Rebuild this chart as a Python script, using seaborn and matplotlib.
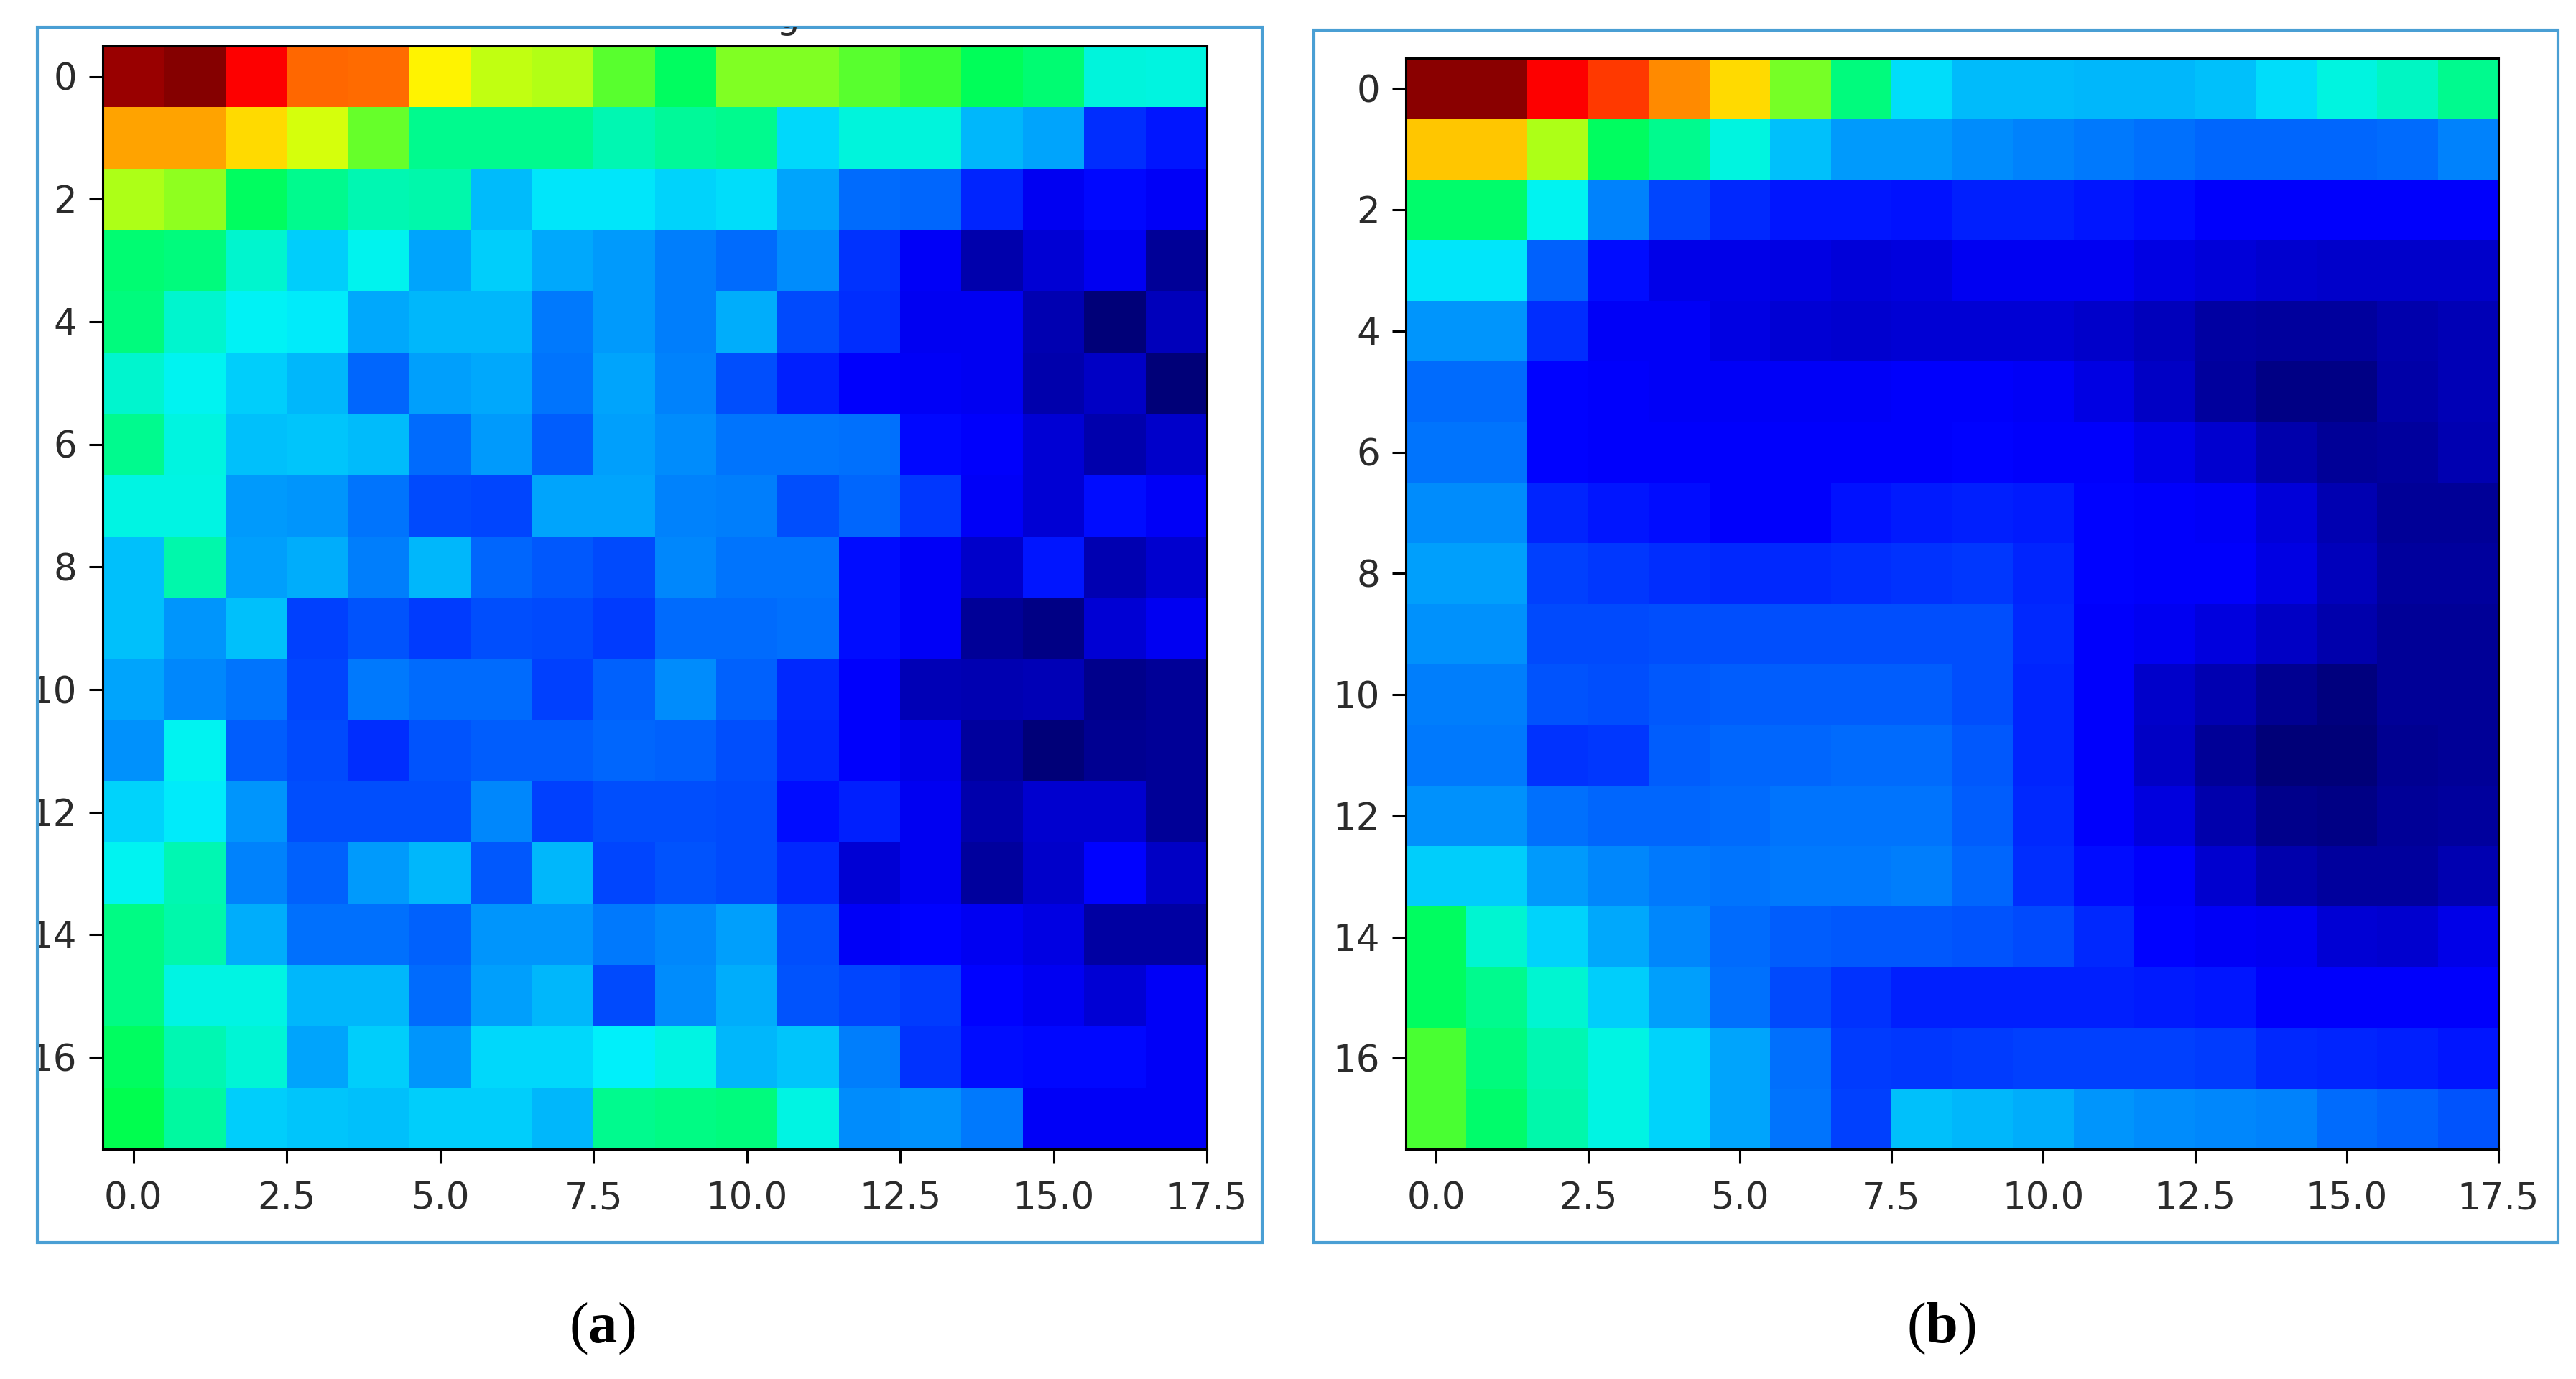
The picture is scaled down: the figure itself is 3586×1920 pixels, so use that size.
import matplotlib
matplotlib.use("Agg")
import matplotlib.pyplot as plt
import numpy as np
import seaborn as sns
from matplotlib.colors import LinearSegmentedColormap
from matplotlib.patches import Rectangle
from matplotlib.transforms import Bbox, ScaledTranslation

W, H = 3586, 1920

# cell values, 0 = navy ... 1 = dark red
cells_a = [
    [.98, .995, .90, .818, .815, .71, .65, .637, .57, .47, .60, .60, .57, .545, .48, .45, .335, .33],
    [.77, .77, .73, .665, .58, .42, .42, .42, .38, .41, .42, .28, .335, .335, .25, .237, .14, .12],
    [.635, .61, .47, .42, .38, .39, .257, .29, .292, .276, .285, .237, .19, .186, .13, .09, .107, .095],
    [.45, .44, .35, .27, .315, .237, .27, .24, .23, .206, .19, .218, .143, .097, .037, .07, .093, .023],
    [.44, .35, .305, .295, .24, .253, .253, .20, .23, .206, .245, .163, .14, .093, .09, .04, .0, .05],
    [.35, .31, .27, .253, .186, .233, .24, .198, .237, .21, .167, .127, .10, .097, .093, .037, .055, .002],
    [.42, .33, .26, .265, .257, .19, .23, .178, .233, .218, .198, .198, .194, .107, .10, .07, .037, .062],
    [.325, .325, .23, .225, .198, .163, .16, .237, .237, .21, .206, .167, .186, .147, .097, .07, .11, .097],
    [.26, .39, .233, .245, .206, .25, .186, .175, .163, .214, .198, .198, .11, .097, .06, .12, .04, .065],
    [.26, .225, .26, .155, .17, .15, .167, .163, .15, .19, .19, .194, .11, .097, .02, .01, .07, .093],
    [.237, .214, .198, .16, .20, .19, .19, .155, .18, .218, .18, .135, .10, .044, .04, .044, .012, .02],
    [.22, .31, .178, .163, .14, .17, .178, .178, .186, .18, .167, .13, .10, .085, .027, .002, .016, .02],
    [.276, .295, .225, .167, .167, .167, .214, .155, .167, .167, .163, .11, .127, .093, .037, .065, .065, .02],
    [.31, .38, .21, .18, .23, .253, .175, .25, .16, .17, .163, .135, .07, .093, .027, .06, .105, .055],
    [.43, .39, .245, .194, .194, .18, .225, .225, .20, .214, .233, .167, .097, .105, .093, .08, .03, .03],
    [.43, .325, .325, .25, .253, .19, .233, .253, .163, .218, .245, .17, .16, .15, .105, .093, .068, .097],
    [.47, .38, .34, .237, .272, .225, .28, .28, .30, .325, .25, .265, .206, .143, .11, .107, .107, .097],
    [.49, .40, .27, .265, .26, .27, .272, .25, .42, .43, .44, .325, .218, .22, .20, .097, .097, .097],
]

cells_b = [
    [.99, .99, .90, .855, .79, .73, .59, .44, .285, .257, .255, .25, .25, .26, .285, .33, .36, .42],
    [.745, .745, .635, .47, .42, .33, .26, .23, .23, .218, .21, .20, .194, .186, .186, .186, .19, .21],
    [.46, .46, .31, .21, .16, .135, .12, .12, .117, .125, .125, .12, .112, .10, .10, .10, .10, .10],
    [.29, .29, .18, .11, .085, .085, .08, .072, .075, .09, .093, .093, .08, .072, .065, .06, .06, .06],
    [.225, .225, .14, .097, .097, .08, .068, .065, .068, .068, .068, .06, .05, .03, .027, .027, .037, .044],
    [.19, .19, .105, .10, .097, .095, .095, .097, .10, .10, .097, .08, .055, .027, .01, .01, .034, .044],
    [.198, .198, .103, .10, .10, .10, .10, .10, .10, .103, .10, .10, .085, .065, .037, .023, .027, .04],
    [.218, .218, .13, .12, .112, .10, .10, .115, .123, .127, .123, .103, .10, .097, .072, .04, .02, .023],
    [.233, .233, .155, .147, .14, .135, .135, .14, .143, .147, .13, .103, .10, .10, .08, .05, .027, .027],
    [.22, .22, .163, .163, .167, .167, .167, .167, .167, .167, .135, .10, .09, .075, .058, .037, .02, .023],
    [.206, .206, .17, .167, .175, .178, .178, .178, .178, .167, .13, .10, .06, .04, .016, .005, .02, .02],
    [.20, .20, .143, .147, .178, .186, .186, .19, .19, .175, .13, .10, .055, .023, .002, .0, .016, .023],
    [.22, .22, .194, .186, .186, .19, .198, .198, .198, .178, .135, .10, .075, .037, .012, .01, .023, .027],
    [.272, .272, .23, .214, .20, .198, .20, .20, .206, .186, .14, .11, .10, .065, .037, .027, .027, .04],
    [.47, .345, .276, .24, .214, .19, .178, .175, .175, .17, .163, .135, .103, .097, .09, .068, .065, .085],
    [.47, .42, .345, .272, .233, .194, .163, .143, .127, .127, .127, .127, .123, .12, .10, .10, .10, .10],
    [.555, .44, .38, .325, .276, .237, .194, .15, .147, .15, .155, .155, .155, .15, .135, .13, .127, .12],
    [.555, .46, .39, .325, .276, .237, .198, .155, .26, .253, .245, .225, .218, .214, .21, .19, .18, .17],
]

x_ticks = [0.0, 2.5, 5.0, 7.5, 10.0, 12.5, 15.0, 17.5]
y_ticks = [0, 2, 4, 6, 8, 10, 12, 14, 16]
panel_names = ["a", "b"]

# saturated jet look, greens keep some blue like the reference
pure_jet = LinearSegmentedColormap.from_list("pure_jet", [
    (0.0, "#000078"), (0.02, "#000098"), (0.1, "#0000ff"), (0.3, "#00f2fa"),
    (0.5, "#00ff46"), (0.7, "#ffff00"), (0.9, "#ff0000"), (1.0, "#800000"),
])

sns.set_theme(style="white")
plt.rcParams["font.family"] = ["DejaVu Sans"]
plt.rcParams["mathtext.fontset"] = "custom"
plt.rcParams["mathtext.bf"] = "Liberation Serif:bold"
plt.rcParams["mathtext.rm"] = "Liberation Serif"

fig = plt.figure(figsize=(W / 100, H / 100), dpi=100)


def add_panel(cells, name, ax_box, frame, label_x):
    l, t, r, b = ax_box
    ax = fig.add_axes([l / W, 1 - b / H, (r - l) / W, (b - t) / H])
    sns.heatmap(np.array(cells), ax=ax, cmap=pure_jet, vmin=0, vmax=1, cbar=False)
    for s in ax.spines.values():
        s.set_visible(True)
        s.set_color("black")
        s.set_linewidth(2.2)
    # heatmap cells sit at i + 0.5
    ax.set_xticks([v + 0.5 for v in x_ticks], [f"{v:.1f}" for v in x_ticks], rotation=0)
    ax.set_yticks([v + 0.5 for v in y_ticks], [str(v) for v in y_ticks], rotation=0)
    ax.tick_params(length=14, width=2.2, color="black", labelcolor="#2b2b2b",
                   labelsize=37, bottom=True, left=True)
    ax.tick_params(axis="x", pad=18)
    ax.tick_params(axis="y", pad=12)
    # y labels sit a little lower than the tick in the reference
    nudge = ScaledTranslation(0, -5 / 100, fig.dpi_scale_trans)
    for lab in ax.get_yticklabels():
        lab.set_transform(lab.get_transform() + nudge)

    fl, ft, fr, fb = frame
    fig.add_artist(Rectangle((fl / W, 1 - fb / H), (fr - fl) / W, (fb - ft) / H,
                             transform=fig.transFigure, fill=False,
                             edgecolor="#4a9fd4", linewidth=3))
    fig.text(label_x / W, 1 - 1850 / H, rf"($\mathbf{{{name}}}$)", ha="center", va="center",
             fontsize=58, color="black", family="Liberation Serif")
    return ax


ax_a = add_panel(cells_a, panel_names[0], (143, 64, 1680, 1600), (52, 38, 1757, 1730), 838)
ax_b = add_panel(cells_b, panel_names[1], (1957, 81, 3478, 1600), (1829, 42, 3561, 1730), 2702)

# panel a: screenshot crop cuts the y labels at the frame
frame_clip = Bbox([[52, 0], [1757, H - 38]])
for lab in ax_a.get_yticklabels():
    lab.set_clip_box(frame_clip)
    lab.set_clip_on(True)

# leftover descender of a cropped title above panel a
stub = fig.text(1096 / W, 1 - 50 / H, "g", ha="center", va="bottom", fontsize=37, color="#2b2b2b")
stub.set_clip_box(Bbox([[0, H - 50], [W, H - 38]]))
stub.set_clip_on(True)

fig.savefig("out.png", dpi=100, facecolor="white")
